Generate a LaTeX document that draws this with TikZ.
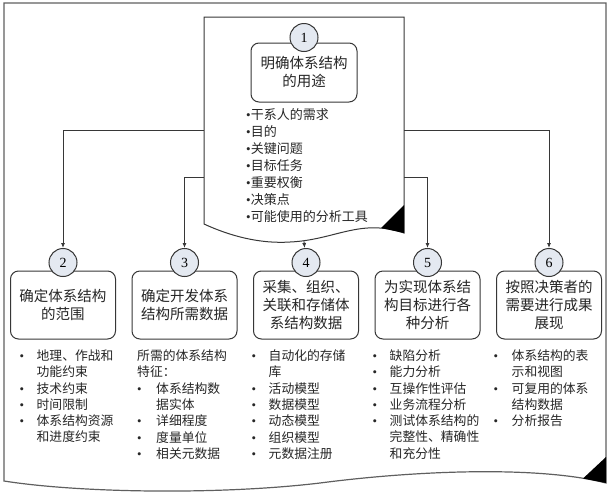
\documentclass[tikz,border=0pt]{standalone}
\usepackage{fontspec}
\setmainfont{Liberation Serif}
\newfontfamily\cjk{Noto Sans CJK SC}
\usetikzlibrary{arrows.meta, positioning, calc}
\definecolor{LineGray}{RGB}{55, 55, 55}
\definecolor{FrameGray}{RGB}{95, 95, 95}
\definecolor{BallFill}{RGB}{228, 233, 241}
\newcommand{\bul}{{\rmfamily\textbullet}}
\newcommand{\itm}[1][17pt]{\makebox[#1][l]{\bul}}
\newcommand{\ind}[1][17pt]{\hspace*{#1}}
\tikzset{
    stepbox/.style={
        rectangle, rounded corners=8pt, draw=LineGray, fill=white,
        line width=1pt, align=center, minimum width=105pt, minimum height=68pt,
        font=\cjk\fontsize{14.5}{18}\selectfont, text=black!85, inner sep=2pt
    },
    numball/.style={circle, draw=LineGray, fill=BallFill, line width=1pt,
        minimum size=28pt, inner sep=0pt, font=\fontsize{14}{14}\selectfont},
    itemlist/.style={align=left, inner sep=0pt, text=black!85,
        font=\cjk\fontsize{12.8}{16.3}\selectfont},
    arrow/.style={-{Latex[length=5pt, width=4pt]}, line width=0.8pt, color=LineGray},
}

\begin{document}
\begin{tikzpicture}[x=1pt, y=-1pt, node distance=15.5pt]
    \useasboundingbox (0,0) rectangle (611,496);

    % outer document frame
    \draw[FrameGray, line width=1.2pt] (4,3) -- (606,3) -- (606,483)
        .. controls (540,466) and (420,470) .. (320,483)
        .. controls (220,495) and (80,493) .. (4,481) -- cycle;
    \fill (583,478.5) -- (606,457) -- (606,483) -- cycle;

    % step 1 document
    \node[minimum width=200pt, minimum height=216pt, inner sep=0pt] (doc) at (304,125) {};
    \draw[LineGray, line width=1pt, fill=white] (204,224) -- (204,17) -- (404,17) -- (404,233)
        .. controls (360,218) and (335,240) .. (290,242)
        .. controls (260,244) and (230,236) .. (204,224) -- cycle;
    \fill (381,228) -- (404,205) -- (404,233) -- cycle;

    \node[stepbox, minimum width=106pt, minimum height=59pt] (b1) at (304,72.5) {明确体系结构\\的用途};
    \node[numball] (n1) at ([yshift=5pt]b1.north) {1};
    \node[itemlist, anchor=north west, font=\cjk\fontsize{13}{17}\selectfont] (l1) at (246,108.5)
        {\bul 干系人的需求\\\bul 目的\\\bul 关键问题\\\bul 目标任务\\\bul 重要权衡\\\bul 决策点\\\bul 可能使用的分析工具};

    % steps 2-6
    \node[stepbox] (b2) at (63,305) {确定体系结构\\的范围};
    \node[stepbox, right=of b2] (b3) {确定开发体系\\结构所需数据};
    \node[stepbox, right=of b3] (b4) {采集、组织、\\关联和存储体\\系结构数据};
    \node[stepbox, right=of b4] (b5) {为实现体系结\\构目标进行各\\种分析};
    \node[stepbox, right=of b5] (b6) {按照决策者的\\需要进行成果\\展现};

    \node[numball] (n2) at ([yshift=8pt]b2.north) {2};
    \node[numball] (n3) at ([yshift=8pt]b3.north) {3};
    \node[numball] (n4) at ([yshift=8pt]b4.north) {4};
    \node[numball] (n5) at ([yshift=8pt]b5.north) {5};
    \node[numball] (n6) at ([yshift=8pt]b6.north) {6};

    % lists below the boxes
    \node[itemlist, below=10pt of b2.south west, anchor=north west, xshift=9.5pt] (l2)
        {\itm 地理、作战和\\\ind 功能约束\\\itm 技术约束\\\itm 时间限制\\\itm 体系结构资源\\\ind 和进度约束};
    \node[itemlist, below=10pt of b3.south west, anchor=north west, xshift=5.5pt] (l3)
        {所需的体系结构\\特征：\\\itm[19pt]体系结构数\\\ind[19pt]据实体\\\itm[19pt]详细程度\\\itm[19pt]度量单位\\\itm[19pt]相关元数据};
    \node[itemlist, below=10pt of b4.south west, anchor=north west, xshift=-1.5pt] (l4)
        {\itm 自动化的存储\\\ind 库\\\itm 活动模型\\\itm 数据模型\\\itm 动态模型\\\itm 组织模型\\\itm 元数据注册};
    \node[itemlist, below=10pt of b5.south west, anchor=north west, xshift=-2pt] (l5)
        {\itm 缺陷分析\\\itm 能力分析\\\itm 互操作性评估\\\itm 业务流程分析\\\itm 测试体系结构的\\\ind 完整性、精确性\\\ind 和充分性};
    \node[itemlist, below=10pt of b6.south west, anchor=north west, xshift=-2.5pt] (l6)
        {\itm[18pt]体系结构的表\\\ind[18pt]示和视图\\\itm[18pt]可复用的体系\\\ind[18pt]结构数据\\\itm[18pt]分析报告};

    % connectors
    \draw[arrow] ([yshift=-5pt]doc.west) -| (n2);
    \draw[arrow] ([yshift=-52pt]doc.west) -| (n3);
    \draw[arrow] ([yshift=-8pt]doc.south) -- (n4);
    \draw[arrow] ([yshift=-52pt]doc.east) -| (n5);
    \draw[arrow] ([yshift=-5pt]doc.east) -| (n6);
\end{tikzpicture}
\end{document}
